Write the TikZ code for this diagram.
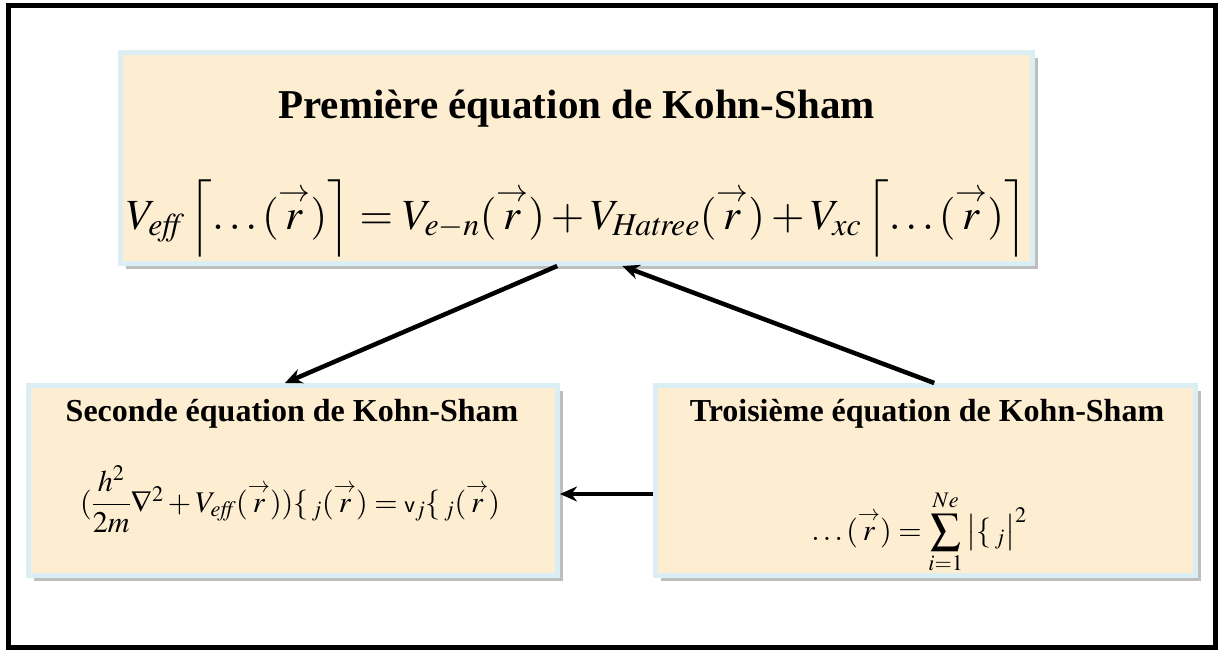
\documentclass[tikz,border=0pt]{standalone}
\usepackage{amsmath}
\usepackage{mathptmx}
\usepackage[no-math]{fontspec}
\setmainfont{Liberation Serif}
\usetikzlibrary{arrows.meta, positioning, shadows, calc}
\definecolor{kshCream}{RGB}{253,238,210}
\definecolor{kshEdge}{RGB}{218,238,243}
\definecolor{kshShade}{RGB}{190,190,190}
\newcommand{\rvec}{\overset{\rightarrow}{r}}
\tikzset{
    eqbox/.style={rectangle, draw=kshEdge, fill=kshCream, line width=5pt, inner sep=0pt,
                  drop shadow={shadow xshift=5pt, shadow yshift=-5pt, fill=kshShade, opacity=1}},
    bigtitle/.style={anchor=base, inner sep=0pt, font=\fontsize{41}{48}\selectfont\bfseries},
    subtitle/.style={anchor=base, inner sep=0pt, font=\fontsize{32}{38}\selectfont\bfseries},
    eqtext/.style={anchor=base, inner sep=0pt, font=\fontsize{#1}{#1}\selectfont},
    flow/.style={-{Stealth[length=17pt, width=15pt]}, line width=4.5pt, black}
}

\begin{document}
\begin{tikzpicture}[x=1pt, y=-1pt]
    \useasboundingbox (0,0) rectangle (1218,651);
    \draw[line width=5pt] (8.5,5.5) rectangle (1215.5,647);

    % Boxes
    \node[eqbox, minimum width=912pt, minimum height=211pt] (kshTop) at (576.5,158) {};
    \node[eqbox, minimum width=529pt, minimum height=190pt] (kshLeft) at (293,480.5) {};
    \node[eqbox, minimum width=540pt, minimum height=190pt] (kshRight) at (925.5,480.5) {};

    % Texts
    \node[bigtitle] (topTitle) at (576.5,118) {Première équation de Kohn-Sham};
    \node[eqtext=43] (topEq) at (576.5,229)
        {$V_{\mathit{eff}}\left\lceil \ldots(\rvec)\vphantom{\Big|^{\rightarrow}} \right\rceil
          = V_{e-n}(\rvec) + V_{\mathit{Hatree}}(\rvec)
          + V_{xc}\left\lceil \ldots(\rvec)\vphantom{\Big|^{\rightarrow}} \right\rceil$};
    \node[subtitle] (leftTitle) at (292,421) {Seconde équation de Kohn-Sham};
    \node[eqtext=30] (leftEq) at (290,512)
        {$(\dfrac{h^2}{2m}\nabla^2 + V_{\mathit{eff}}(\rvec))\{\,_j(\rvec) = \mathsf{v}_j\{\,_j(\rvec)$};
    \node[subtitle] (rightTitle) at (927,421) {Troisième équation de Kohn-Sham};
    \node[eqtext=30] (rightEq) at (919,540)
        {$\ldots(\rvec) = \displaystyle\sum_{i=1}^{Ne}\left|\{\,_j\vphantom{\sum}\right|^2$};

    % Flows
    \draw[flow] ($(kshTop.south west)!0.479!(kshTop.south east)$)
        -- ($(kshLeft.north west)!0.485!(kshLeft.north east)$);
    \draw[flow] ($(kshRight.north west)!0.516!(kshRight.north east)$)
        -- ($(kshTop.south west)!0.55!(kshTop.south east)$);
    \draw[flow] ($(kshRight.west)+(0,13.5)$) -- ($(kshLeft.east)+(0,13.5)$);
\end{tikzpicture}
\end{document}
